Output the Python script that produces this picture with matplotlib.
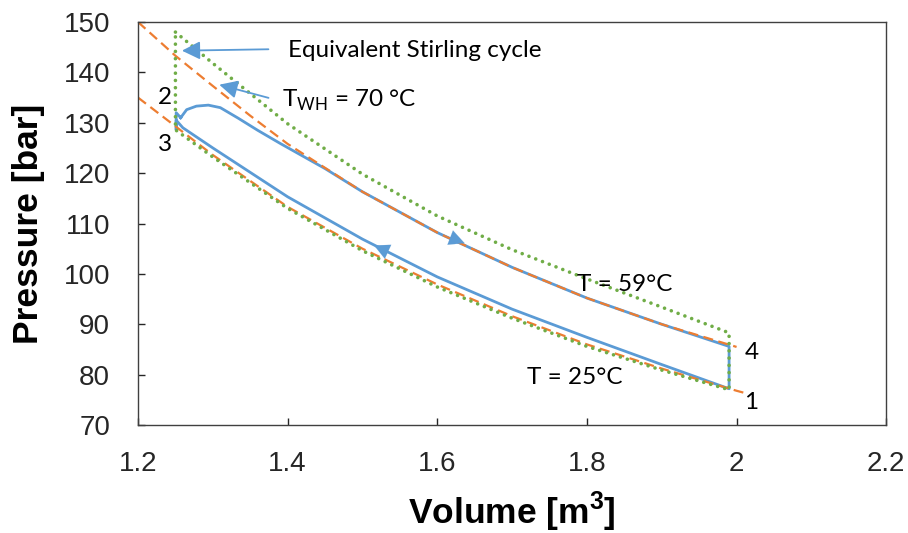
import numpy as np
import matplotlib.pyplot as plt

# isotherms (orange dashed)
v_hot = [1.2, 1.25, 1.3, 1.35, 1.4, 1.5, 1.6, 1.7, 1.8, 1.9, 2.0]
p_hot = [150, 143.3, 137.3, 131.4, 125.8, 116.3, 108.2, 101.3, 95.2, 90.0, 85.5]
v_cold = [1.2, 1.3, 1.4, 1.5, 1.6, 1.7, 1.8, 1.9, 2.0, 2.01]
p_cold = [135, 123.6, 113.3, 105.0, 97.9, 91.6, 86.0, 81.2, 76.8, 76.4]

# equivalent Stirling cycle (green dotted), closed path
v_stir = [1.25, 1.3, 1.4, 1.5, 1.6, 1.7, 1.8, 1.9, 1.99,
          1.99, 1.9, 1.8, 1.7, 1.6, 1.5, 1.4, 1.3, 1.25, 1.25]
p_stir = [148.0, 141.8, 129.8, 119.8, 111.5, 104.8, 99.0, 93.4, 88.3,
          77.0, 80.9, 85.6, 91.2, 97.4, 104.6, 113.0, 123.2, 128.6, 148.0]

# simulated cycle (blue solid)
v_cyc = [1.257, 1.265, 1.278, 1.294, 1.31, 1.334, 1.36, 1.39, 1.42, 1.45, 1.5, 1.6, 1.7, 1.8, 1.9, 1.99,
         1.99, 1.9, 1.8, 1.7, 1.6, 1.5, 1.4, 1.3, 1.26, 1.251, 1.251, 1.251, 1.257]
p_cyc = [131.0, 132.6, 133.3, 133.5, 133.0, 130.9, 128.5, 125.9, 123.4, 120.9, 116.3, 108.2, 101.3, 95.2, 90.0, 85.6,
         77.2, 82.0, 87.4, 93.0, 99.4, 106.9, 115.3, 125.0, 129.0, 130.5, 128.6, 132.0, 131.0]

blue = "#5B9BD5"
orange = "#ED7D31"
green = "#70AD47"
txt_font = "Lato"
tfs = 17.5

fig = plt.figure(figsize=(9.08, 5.33), dpi=100)
ax = fig.add_axes([0.152, 0.2026, 0.824, 0.7561])

ax.plot(v_cyc, p_cyc, color=blue, lw=2.0)
ax.plot(v_hot, p_hot, color=orange, lw=1.6, ls=(0, (4.5, 2.5)))
ax.plot(v_cold, p_cold, color=orange, lw=1.6, ls=(0, (4.5, 2.5)))
ax.plot(v_stir, p_stir, color=green, lw=2.6, ls=(0, (0.01, 2.0)), dash_capstyle="round")

# direction arrows on the cycle
head = "-|>,head_length=1.1,head_width=0.55"
ax.annotate("", xy=(1.64, 105.9), xytext=(1.60, 108.2),
            arrowprops=dict(arrowstyle=head, color=blue, lw=0.1))
ax.annotate("", xy=(1.512, 105.9), xytext=(1.55, 103.3),
            arrowprops=dict(arrowstyle=head, color=blue, lw=0.1))

# callouts
ax.annotate("", xy=(1.255, 144.3), xytext=(1.378, 144.6),
            arrowprops=dict(arrowstyle=head, color=blue, lw=1.3))
ax.annotate("", xy=(1.305, 137.7), xytext=(1.378, 134.8),
            arrowprops=dict(arrowstyle=head, color=blue, lw=1.3))
ax.text(1.401, 144.4, "Equivalent Stirling cycle", fontsize=tfs, family=txt_font, va="center")
ax.text(1.392, 134.4, r"T$_{\mathregular{WH}}$ = 70 °C", fontsize=tfs, family=txt_font, va="center")
ax.text(1.236, 135.0, "2", fontsize=tfs, family=txt_font, ha="center", va="center")
ax.text(1.236, 125.6, "3", fontsize=tfs, family=txt_font, ha="center", va="center")
ax.text(2.020, 84.3, "4", fontsize=tfs, family=txt_font, ha="center", va="center")
ax.text(2.020, 74.4, "1", fontsize=tfs, family=txt_font, ha="center", va="center")
ax.text(1.851, 97.8, "T = 59°C", fontsize=tfs, family=txt_font, ha="center", va="center")
ax.text(1.784, 79.4, "T = 25°C", fontsize=tfs, family=txt_font, ha="center", va="center")

ax.set_xlim(1.2, 2.2)
ax.set_ylim(70, 150)
ax.set_xticks([1.2, 1.4, 1.6, 1.8, 2.0, 2.2])
ax.set_xticklabels(["1.2", "1.4", "1.6", "1.8", "2", "2.2"])
ax.set_yticks(np.arange(70, 151, 10))
ax.tick_params(direction="in", length=5, width=1, labelsize=20, colors="#262626")
ax.tick_params(axis="y", pad=20)
ax.tick_params(axis="x", pad=19)
for lab in ax.get_xticklabels() + ax.get_yticklabels():
    lab.set_family("Liberation Sans")
for s in ax.spines.values():
    s.set_color("#404040")
    s.set_linewidth(1)

ax.set_xlabel(r"Volume [m$^{\mathregular{3}}$]", fontsize=25.5, fontweight="bold", family="Liberation Sans")
ax.set_ylabel("Pressure [bar]", fontsize=25.5, fontweight="bold", family="Liberation Sans")
ax.xaxis.set_label_coords(0.5, -0.215)
ax.yaxis.set_label_coords(-0.147, 0.5)
ax.xaxis.label.set_va("center")
ax.yaxis.label.set_va("center")

fig.savefig("out.png", dpi=100)
